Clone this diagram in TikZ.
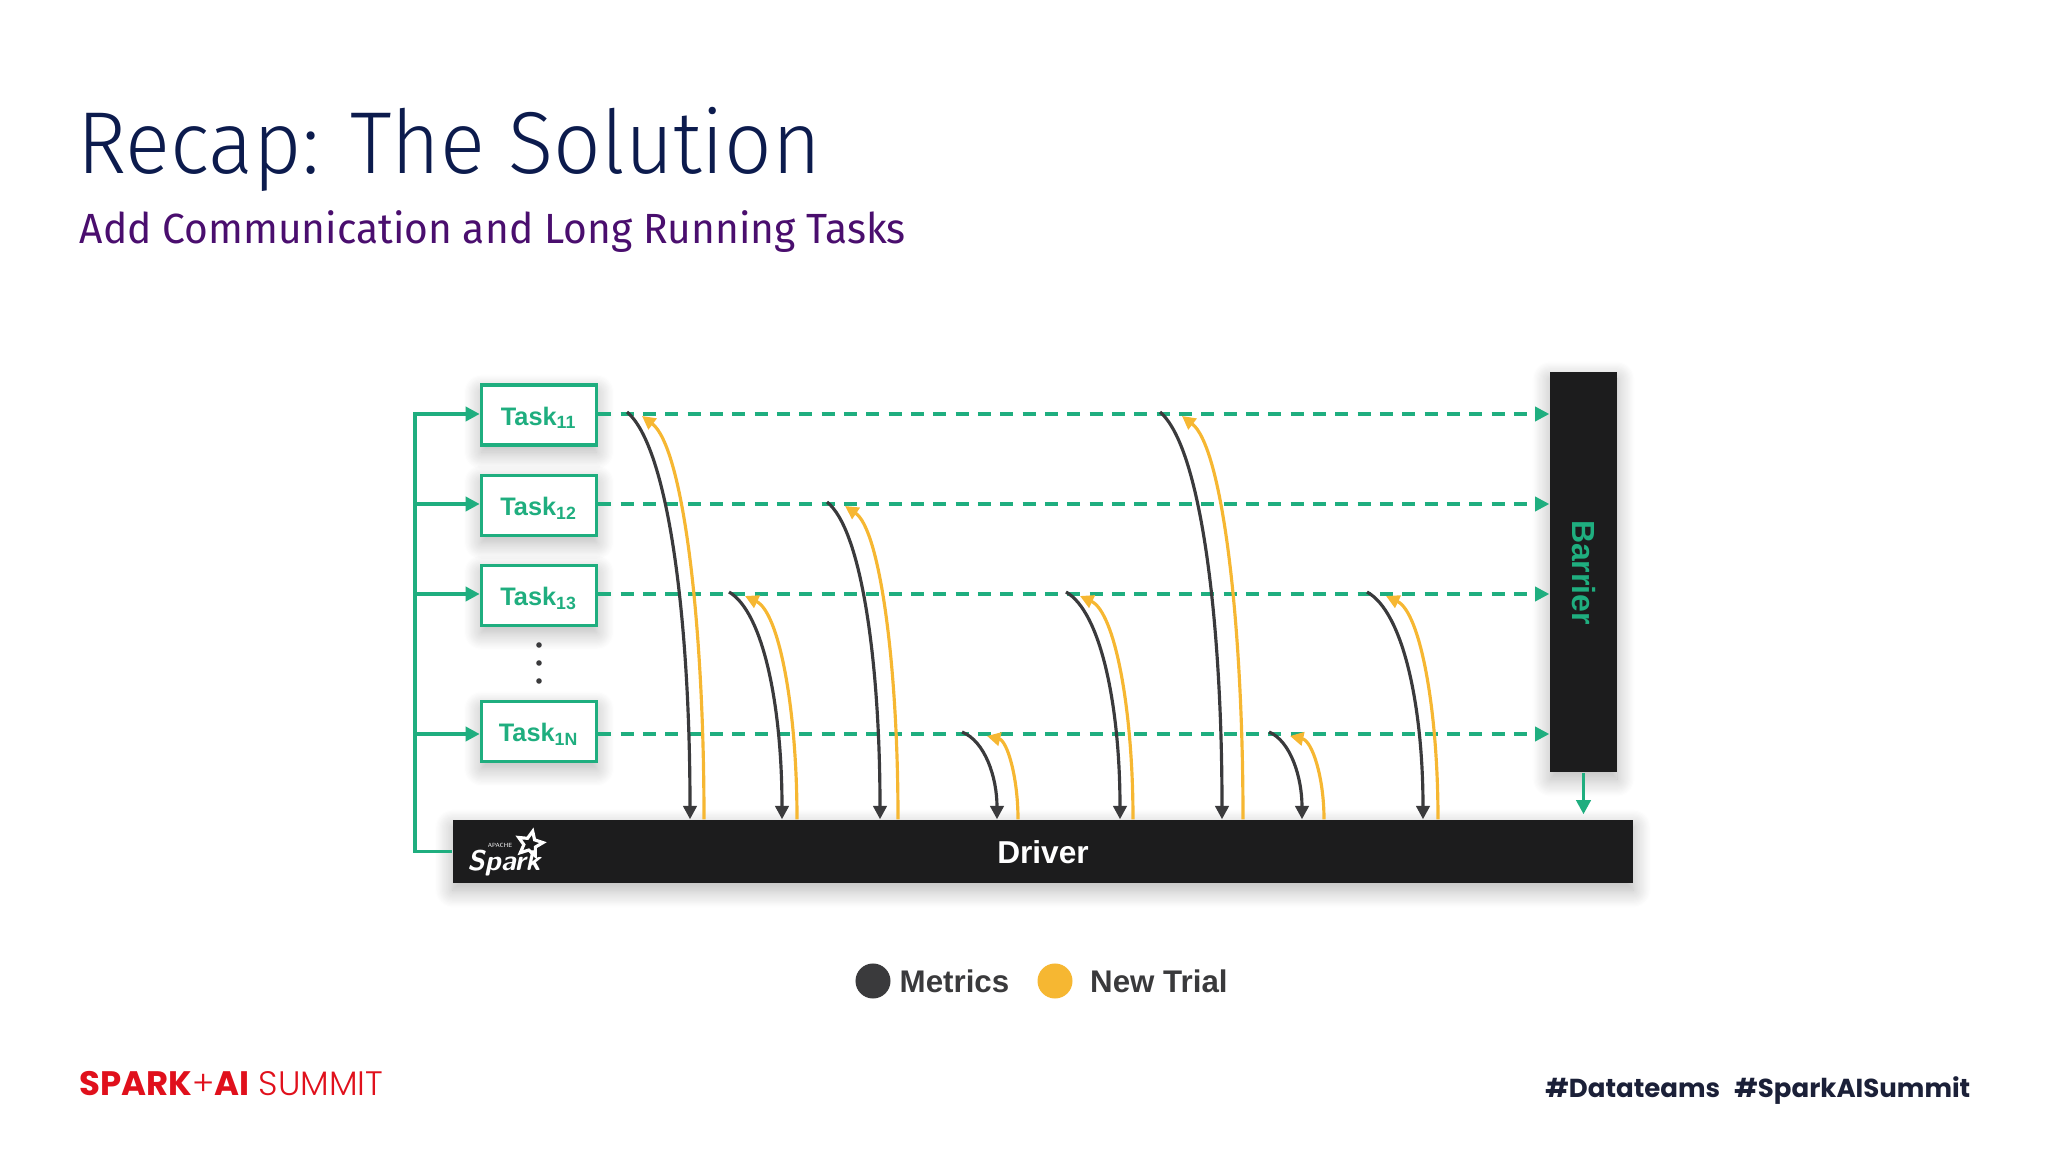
\documentclass[tikz,border=0pt]{standalone}
\usepackage{fontspec}
\setmainfont{Liberation Sans}
\newfontfamily\titlefont[FakeStretch=.95]{Fira Sans Light}
\newfontfamily\subfont[FakeStretch=.965]{Fira Sans}
\newfontfamily\footfont{Poppins}
\newfontfamily\footlight{Poppins Light}
\usetikzlibrary{arrows.meta,shapes.geometric,shadows.blur}
\definecolor{taskgreen}{HTML}{1FAE7F}
\definecolor{trialyellow}{HTML}{F6B732}
\definecolor{metricgray}{HTML}{3A3A3C}
\definecolor{boxblack}{HTML}{1C1C1D}
\definecolor{titlenavy}{HTML}{0C1B4D}
\definecolor{subpurple}{HTML}{4A0E6E}
\definecolor{summitred}{HTML}{E0101C}
\definecolor{hashnavy}{HTML}{1B2038}
\tikzset{
  softshadow/.style={blur shadow={shadow xshift=0pt,shadow yshift=-2pt,shadow blur radius=5pt,shadow blur steps=16,shadow opacity=30}},
  taskbox/.style={draw=taskgreen,line width=1pt,fill=white,minimum width=1.15cm,minimum height=.60cm,inner sep=0pt,text height=6.5pt,text depth=.8pt,text=taskgreen,font=\bfseries\fontsize{7.2}{9}\selectfont,softshadow},
  blackbar/.style={fill=boxblack,inner sep=0pt,softshadow},
  feed/.style={draw=taskgreen,line width=1pt,-{Triangle[length=4pt,width=4pt]}},
  barrierline/.style={feed,line width=.9pt,dash pattern=on 3.7pt off 2.65pt},
  metric/.style={draw=metricgray,line width=.9pt,-{Triangle[length=3.8pt,width=3.8pt]}},
  newtrial/.style={draw=trialyellow,line width=.9pt,-{Triangle[length=3.8pt,width=3.8pt]}},
  legendtext/.style={text=metricgray,font=\bfseries\fontsize{8.9}{10}\selectfont,inner sep=0pt}
}
\begin{document}
\begin{tikzpicture}[x=.01cm,y=-.01cm]
\useasboundingbox (0,0) rectangle (2048,1152);
% heading
\node[anchor=west,inner sep=0pt,text=titlenavy,font=\titlefont\fontsize{25}{30}\selectfont] (title) at (77,149.5) {Recap: The Solution};
\node[anchor=west,inner sep=0pt,text=subpurple,font=\subfont\fontsize{12}{14}\selectfont] (subtitle) at (79,232) {Add Communication and Long Running Tasks};
% tasks and bars
\node[taskbox] (task11) at (539,415) {Task\textsubscript{11}};
\node[taskbox] (task12) at (539,505.3) {Task\textsubscript{12}};
\node[taskbox] (task13) at (539,595.3) {Task\textsubscript{13}};
\node[taskbox] (task1N) at (539,731.7) {Task\textsubscript{1N}};
\node[blackbar,minimum width=.67cm,minimum height=4cm] (barrier) at (1583.5,572) {};
\node[rotate=-90,inner sep=0pt,text=taskgreen,font=\bfseries\fontsize{9.1}{11}\selectfont] (barrierlabel) at (1583.5,572.5) {Barrier};
\node[blackbar,minimum width=11.8cm,minimum height=.63cm] (driver) at (1043,851.5) {};
\node[inner sep=0pt,text=white,font=\bfseries\fontsize{9}{11}\selectfont] (driverlabel) at (1043,852) {Driver};
% spark logo
\node[inner sep=0pt,text=white,font=\sffamily\bfseries\itshape\fontsize{8.1}{10}\selectfont] (sparkname) at (504,863) {Spark};
\node[inner sep=0pt,text=white,font=\sffamily\fontsize{1.7}{2}\selectfont] (sparkapache) at (500,845.5) {APACHE};
\node[star,star points=5,star point ratio=2.1,draw=white,line width=.9pt,minimum size=.26cm,inner sep=0pt,rotate=-12] (sparkstar) at (530,844) {};
% rows
\coordinate (trunk) at (415,414);
\coordinate (row11) at (415,414);
\coordinate (row12) at (415,504);
\coordinate (row13) at (415,594);
\coordinate (row1N) at (415,734);
% feeds
\draw[feed] (driver.west) -| (trunk) -- (row11 -| task11.west);
\draw[feed] (row12) -- (row12 -| task12.west);
\draw[feed] (row13) -- (row13 -| task13.west);
\draw[feed] (row1N) -- (row1N -| task1N.west);
\draw[barrierline] (row11 -| task11.east) -- (row11 -| barrier.west);
\draw[barrierline] (row12 -| task12.east) -- (row12 -| barrier.west);
\draw[barrierline] (row13 -| task13.east) -- (row13 -| barrier.west);
\draw[barrierline] (row1N -| task1N.east) -- (row1N -| barrier.west);
\draw[feed] (barrier.south) -- ([yshift=.05cm]driver.north -| barrier.south);
% metric and trial curves
\foreach \row/\ms/\me/\ts/\te [count=\i] in {414/627/690/642/704,594/729/782/745/797,504/827/880/845/898,734/962/997/987/1018,594/1066/1120/1080/1133,414/1160/1222/1182/1243,734/1269/1302/1290/1324,594/1367/1423/1386/1438}{
  \coordinate (ms\i) at (\ms,\row-2);
  \coordinate (ts\i) at (\ts,\row+2);
  \draw[metric] (ms\i) .. controls ({\ms+.65*(\me-\ms)},{\row+.08*(820-\row)}) and (\me,{\row+.5*(820-\row)}) .. (\me,0 |- driver.north);
  \draw[newtrial] (\te,0 |- driver.north) .. controls (\te,{\row+.5*(820-\row)}) and ({\ts+.65*(\te-\ts)},{\row+.08*(820-\row)}) .. (ts\i);
}
% dots between tasks
\fill[metricgray] (539,645) circle (.028cm) (539,663) circle (.028cm) (539,681) circle (.028cm);
% legend
\node[circle,fill=metricgray,minimum size=.35cm,inner sep=0pt] (metricdot) at (873,981) {};
\node[circle,fill=trialyellow,minimum size=.35cm,inner sep=0pt] (trialdot) at (1055,981) {};
\node[legendtext,anchor=west] (metriclabel) at (899,981) {Metrics};
\node[legendtext,anchor=west] (triallabel) at (1089.5,981) {New Trial};
% footer
\node[anchor=west,inner sep=0pt,text=summitred,font=\footfont\fontsize{9.65}{11}\selectfont] (summit) at (79,1084) {\textbf{SPARK}{\footlight+}\textbf{AI} {\footlight SUMMIT}};
\node[anchor=east,inner sep=0pt,text=hashnavy,font=\footfont\bfseries\fontsize{7.4}{10}\selectfont] (hashtags) at (1971,1091) {\#Datateams\hspace{.55em}\#SparkAISummit};
\end{tikzpicture}
\end{document}
